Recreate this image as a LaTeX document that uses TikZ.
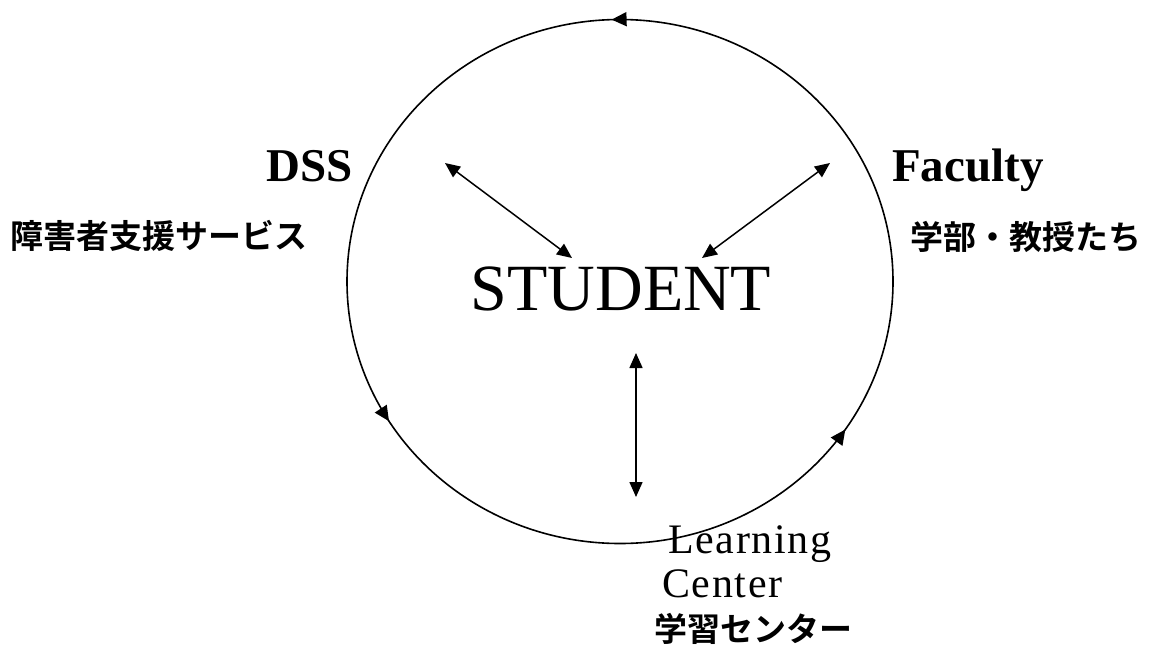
\documentclass[tikz,border=0pt]{standalone}
\usepackage{fontspec}
\setmainfont{Liberation Serif}
\newfontfamily\cjk{Noto Sans CJK JP}[BoldFont={* Bold}]
\usetikzlibrary{arrows.meta,decorations.markings}
\begin{document}
\begin{tikzpicture}[x=1pt,y=1pt,
  txt/.style={inner sep=0pt},
  big/.style={txt,font=\fontsize{66}{70}\selectfont},
  lbl/.style={txt,font=\bfseries\fontsize{47}{50}\selectfont},
  lc/.style={txt,font=\fontsize{42}{46}\selectfont\addfontfeatures{LetterSpace=4}},
  jp/.style={txt,font=\cjk\bfseries\fontsize{33}{36}\selectfont},
  conn/.style={line width=1.5pt,{Triangle[length=15pt,width=13pt]}-{Triangle[length=15pt,width=13pt]}},
  ring/.style={line width=1.6pt}]
\useasboundingbox (0,0) rectangle (1154,-654);
\draw[ring, postaction={decorate}, decoration={markings,
  mark=at position 0.255 with {\arrow{Triangle[length=15pt,width=14pt]}},
  mark=at position 0.588 with {\arrow{Triangle[length=15pt,width=14pt]}},
  mark=at position 0.906 with {\arrow{Triangle[length=15pt,width=14pt]}}}]
  (620,-281.5) ellipse [x radius=273, y radius=262];
\node[big, anchor=base] (student) at (621,-310) {STUDENT};
\node[lbl, anchor=base] (dss) at (310,-181) {DSS};
\node[lbl, anchor=base west] (fac) at (892,-181) {Faculty};
\node[jp, anchor=base west] (dssj) at (10,-248) {障害者支援サービス};
\node[jp, anchor=base west] (facj) at (910,-249) {学部・教授たち};
\node[lc, anchor=base west] (lc1) at (668,-553) {Learning};
\node[lc, anchor=base west] (lc2) at (662,-597) {Center};
\node[jp, anchor=base west] (lcj) at (654,-641) {学習センター};
\coordinate (a1) at (445,-163);
\coordinate (a2) at (572,-258);
\coordinate (b1) at (830,-163);
\coordinate (b2) at (702,-258);
\coordinate (c1) at (636,-353);
\coordinate (c2) at (636,-497);
\draw[conn] (a1) -- (a2);
\draw[conn] (b1) -- (b2);
\draw[conn] (c1) -- (c2);
\end{tikzpicture}
\end{document}
